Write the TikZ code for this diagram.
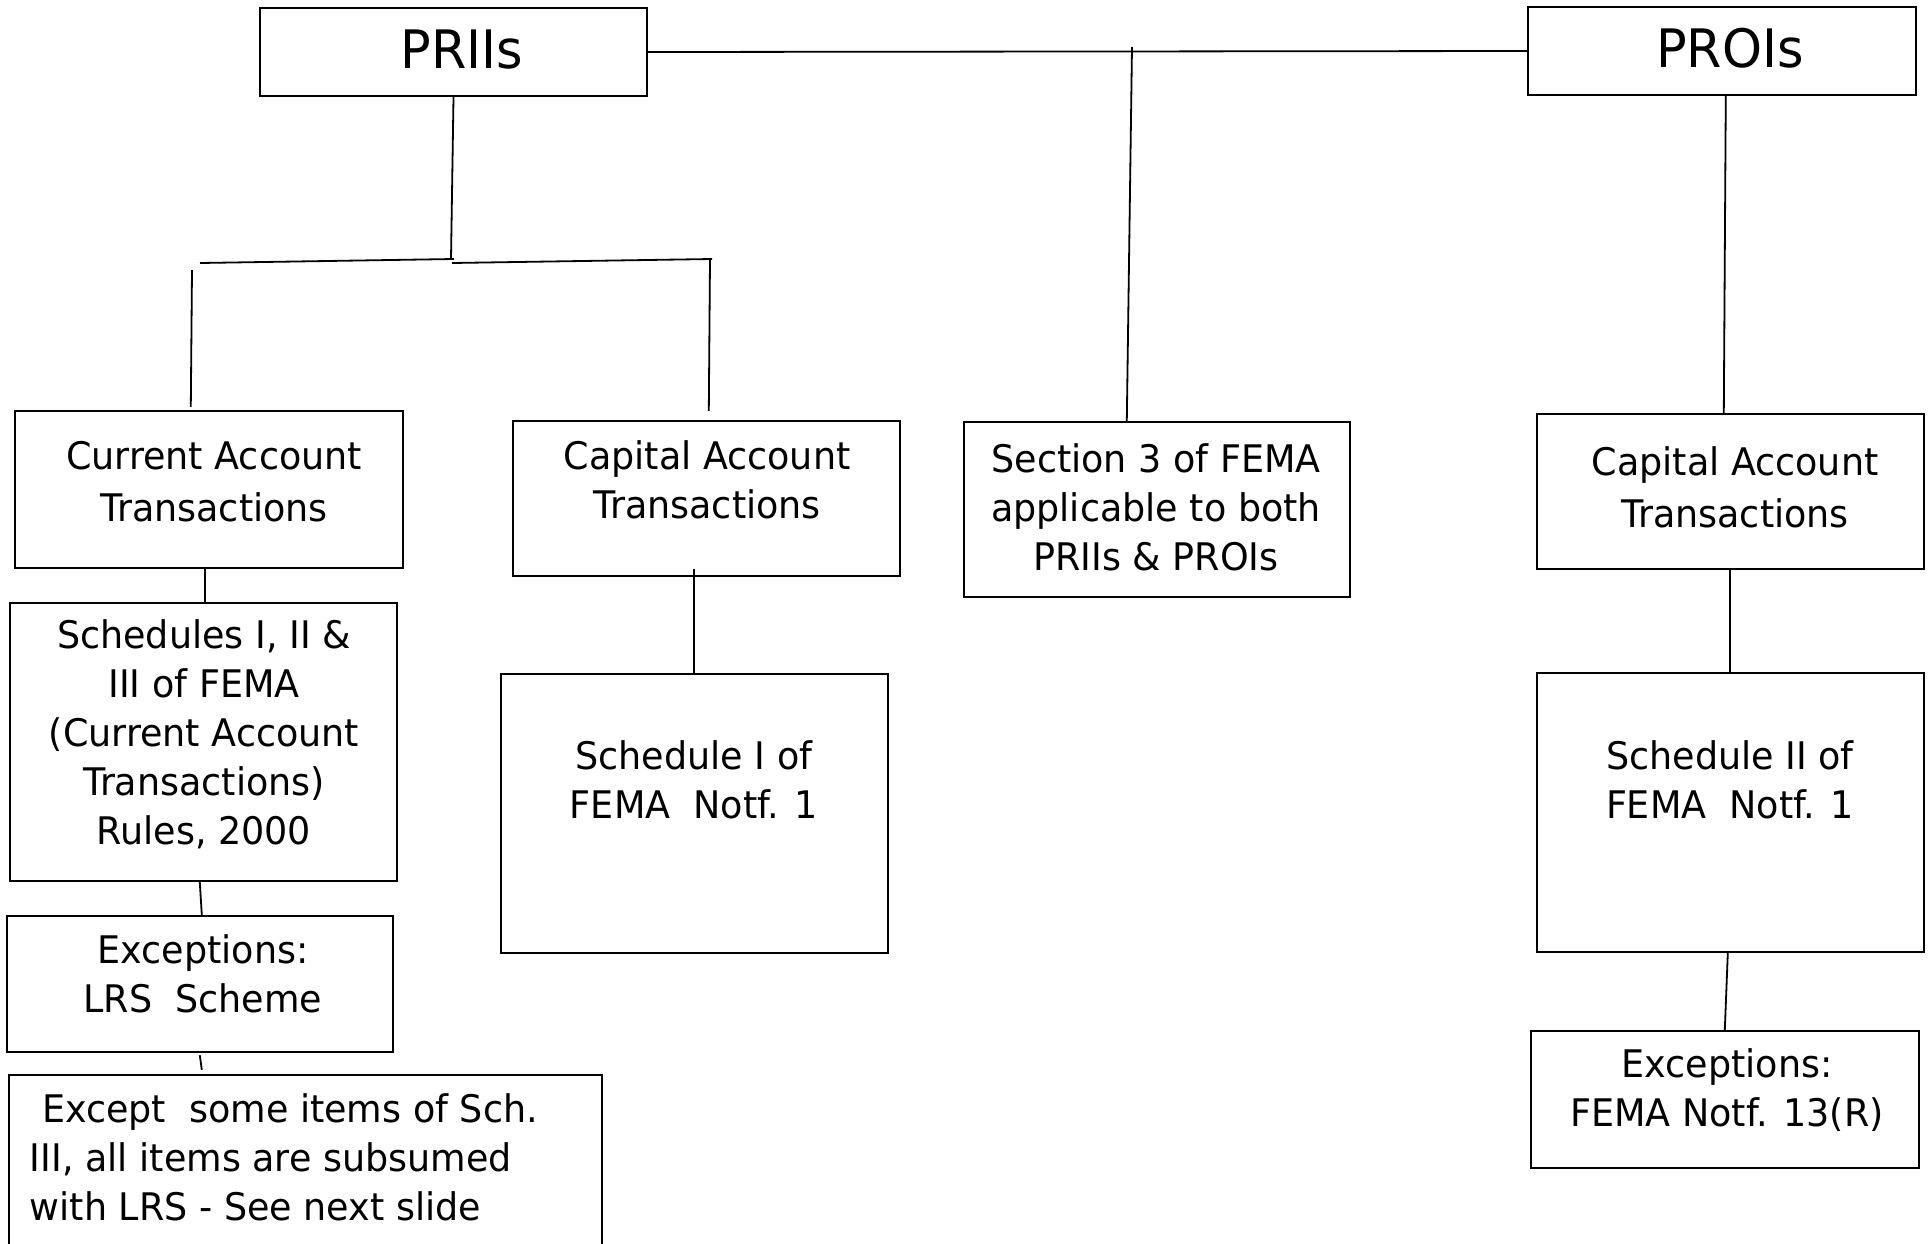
\documentclass[tikz,border=0pt]{standalone}
\usepackage{fontspec}
\setmainfont{DejaVu Sans}[FakeStretch=0.96]
\usetikzlibrary{fit,calc}
\begin{document}
\begin{tikzpicture}[x=0.5pt,y=-0.5pt,
  box/.style={draw=black,line width=1.2pt,inner sep=0pt,rectangle},
  conn/.style={draw=black,line width=0.9pt},
  txt/.style={inner sep=0pt,align=center,font=\fontsize{19}{24.5}\selectfont},
  txtw/.style={inner sep=0pt,align=center,font=\fontsize{19}{26}\selectfont},
  big/.style={inner sep=0pt,font=\fontsize{26.5}{30}\selectfont}]
\useasboundingbox (0,0) rectangle (1928,1243);
\clip (0,0) rectangle (1928,1243);
\fill[white] (0,0) rectangle (1928,1243);
% boxes
\node[box,fit={(260,8) (647,96)}] (prii) {};
\node[box,fit={(1528,7) (1916,95)}] (proi) {};
\node[box,fit={(15,411) (403,568)}] (cur) {};
\node[box,fit={(513,421) (900,576)}] (capl) {};
\node[box,fit={(964,422) (1350,597)}] (sec) {};
\node[box,fit={(1537,414) (1924,569)}] (capr) {};
\node[box,fit={(10,603) (397,881)}] (sched) {};
\node[box,fit={(501,674) (888,953)}] (schI) {};
\node[box,fit={(1537,673) (1924,952)}] (schII) {};
\node[box,fit={(7,916) (393,1052)}] (exclrs) {};
\node[box,fit={(1531,1031) (1919,1168)}] (excfema) {};
\node[box,fit={(9,1075) (602,1265)}] (except) {};
% texts
\node[big] (tprii) at (462,49.5) {PRIIs};
\node[big] (tproi) at (1730,48.5) {PROIs};
\node[txtw] (tcur) at (214,482) {Current Account\\Transactions};
\node[txt] (tcapl) at (707,480) {Capital Account\\Transactions};
\node[txt] (tsec) at (1156,507) {Section 3 of FEMA\\applicable to both\\PRIIs \& PROIs};
\node[txtw] (tcapr) at (1735,487) {Capital Account\\Transactions};
\node[txt] (tsched) at (204,734) {Schedules I, II \&\\III of FEMA\\(Current Account\\Transactions)\\Rules, 2000};
\node[txt] (tschI) at (694,780) {Schedule I of\\FEMA\ \ Notf. 1};
\node[txt] (tschII) at (1730,780) {Schedule II of\\FEMA\ \ Notf. 1};
\node[txt] (texclrs) at (203,974) {Exceptions:\\LRS\ \ Scheme};
\node[txt] (texcfema) at (1727,1090) {Exceptions:\\FEMA Notf. 13(R)};
\node[txt,align=left,anchor=west] (texcept) at (29.5,1157.5) {\hspace*{0.32em}Except\ \ some items of Sch.\\III, all items are subsumed\\with LRS - See next slide};
% junction coordinates
\coordinate (secTop) at (1132,47);
\coordinate (jL) at (451,259);
\coordinate (hlA) at (200,263);
\coordinate (hlB) at (454,259);
\coordinate (hrA) at (452,263);
\coordinate (hrB) at (712,259);
\coordinate (vlTop) at (192,270);
\coordinate (vrTop) at (710,259);
% connectors
\draw[conn] (prii.east) -- (proi.west);
\draw[conn] ($(sec.north west)+(164,0)$) -- (secTop);
\draw[conn] (prii.south) -- (jL);
\draw[conn] (hlA) -- (hlB);
\draw[conn] (hrA) -- (hrB);
\draw[conn] (vlTop) -- ($(cur.north west)+(177,-3)$);
\draw[conn] (vrTop) -- ($(capl.north west)+(197,-9)$);
\draw[conn] ($(cur.south west)+(191,0)$) -- ($(sched.north west)+(196,0)$);
\draw[conn] ($(capl.south west)+(182,-8)$) -- ($(schI.north west)+(194,0)$);
\draw[conn] ($(sched.south west)+(191,0)$) -- ($(exclrs.north west)+(196,0)$);
\draw[conn] ($(exclrs.south west)+(194,2)$) -- ($(except.north west)+(194,-4)$);
\draw[conn] ($(proi.south west)+(199,0)$) -- ($(capr.north west)+(188,0)$);
\draw[conn] ($(capr.south west)+(194,0)$) -- ($(schII.north west)+(194,0)$);
\draw[conn] ($(schII.south west)+(192,0)$) -- ($(excfema.north west)+(195,0)$);
\end{tikzpicture}
\end{document}
